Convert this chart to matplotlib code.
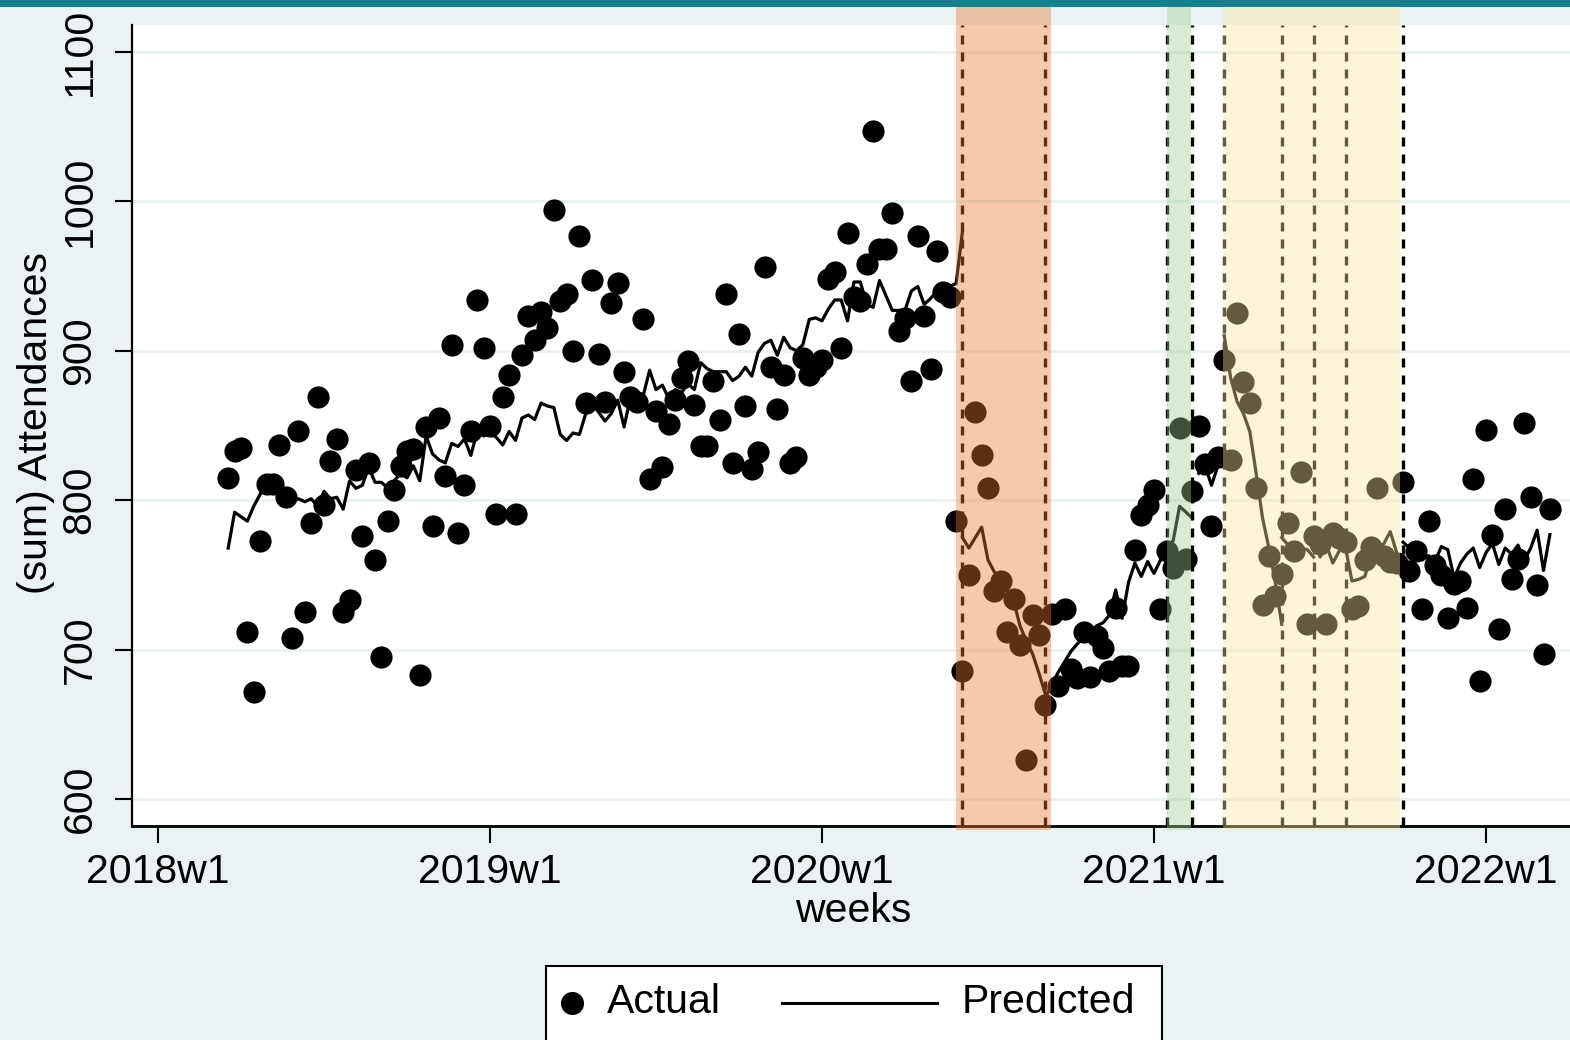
import numpy as np
import matplotlib
matplotlib.use('Agg')
from matplotlib import pyplot as plt
from matplotlib.patches import Rectangle
from matplotlib.lines import Line2D

plt.rcParams['font.family'] = ['Liberation Sans', 'DejaVu Sans']

# weeks counted from 2018w1 (=0), 52 weeks a year (Stata %tw)
first_week = 11
actual = [815, 833, 835, 712, 672, 773, 811, 811, 837, 802,
          708, 846, 725, 785, 869, 797, 826, 841, 725, 733,
          820, 776, 825, 760, 695, 786, 807, 823, 833, 834,
          683, 849, 783, 855, 816, 904, 778, 810, 846, 934,
          902, 850, 791, 869, 884, 791, 897, 923, 907, 926,
          915, 994, 933, 938, 900, 977, 865, 947, 898, 866,
          932, 945, 886, 869, 866, 921, 814, 860, 822, 851,
          867, 882, 893, 864, 836, 836, 880, 854, 938, 825,
          911, 863, 821, 832, 956, 889, 861, 884, 825, 829,
          895, 884, 889, 894, 948, 953, 902, 979, 936, 933,
          958, 1047, 968, 968, 992, 913, 922, 880, 977, 923,
          888, 967, 939, 936, 786, 686, 750, 859, 830, 808,
          739, 746, 712, 734, 703, 626, 723, 710, 663, 724,
          676, 727, 687, 681, 712, 682, 709, 701, 686, 728,
          689, 689, 767, 790, 797, 807, 727, 766, 755, 848,
          761, 806, 850, 824, 783, 829, 894, 827, 925, 879,
          865, 808, 730, 763, 736, 751, 785, 766, 819, 717,
          776, 771, 717, 778, 775, 772, 727, 729, 760, 769,
          808, 763, 759, 758, 812, 753, 766, 727, 786, 757,
          750, 721, 744, 746, 728, 814, 679, 847, 777, 714,
          794, 747, 761, 852, 802, 743, 697, 794]
weeks = np.arange(first_week, first_week + len(actual))

# predicted, one piece per period
pred_pre = [768, 792, 789, 786, 796, 804, 811, 810, 804, 800,
            799, 801, 799, 801, 796, 806, 801, 802, 794, 813,
            808, 810, 822, 812, 812, 808, 813, 818, 815, 823,
            813, 843, 831, 827, 825, 838, 836, 841, 830, 846,
            843, 845, 842, 837, 846, 840, 855, 857, 854, 865,
            863, 862, 844, 840, 845, 844, 858, 865, 859, 853,
            858, 867, 849, 869, 861, 870, 887, 874, 877, 868,
            874, 872, 878, 874, 892, 888, 886, 886, 886, 880,
            883, 889, 883, 899, 905, 907, 897, 909, 902, 900,
            904, 921, 922, 920, 928, 934, 934, 920, 946, 946,
            931, 929, 947, 937, 927, 927, 927, 940, 943, 931,
            935, 940, 937, 943, 945, 980]
pred_lock1 = [775, 768, 775, 782, 760, 752, 745, 740, 733, 716, 706, 697, 684, 670]
pred_post1 = [668, 677, 685, 692, 699, 704, 708, 711, 716, 718,
              723, 740, 721, 745, 758, 749, 759, 751, 760, 767]
pred_lock2 = [767, 773, 796, 792, 788]
pred_mid = [818, 823, 810, 823]
pred_lock3a = [910, 882, 866, 858, 846, 818, 788, 768, 745, 717]
pred_lock3b = [775, 770, 764, 768, 767, 762]
pred_lock3c = [776, 762, 770, 758, 766, 772]
pred_lock3d = [768, 746, 747, 749, 762, 767, 771, 779, 765]
pred_post2 = [772, 768, 764, 760, 763, 759, 769, 767, 748, 758,
              764, 768, 755, 765, 771, 757, 768, 764, 770, 760,
              768, 780, 753, 777]
pred_starts = [11, 126, 139, 158, 163, 167, 176, 181, 186, 195]
pred_pieces = [pred_pre, pred_lock1, pred_post1, pred_lock2, pred_mid,
               pred_lock3a, pred_lock3b, pred_lock3c, pred_lock3d, pred_post2]

year_ticks = [0, 52, 104, 156, 208]
year_labels = ['2018w1', '2019w1', '2020w1', '2021w1', '2022w1']
y_ticks = [600, 700, 800, 900, 1000, 1100]

break_weeks = [126, 139, 158, 162, 167, 176, 181, 186, 195]
shade_from = [125.0, 158.1, 166.85]
shade_to = [139.8, 161.8, 194.55]
shade_cols = ['#E97A32', '#A0CD91', '#FCE69D']

W, H = 1570, 1040
bg = '#EAF2F3'
fig = plt.figure(figsize=(W / 100, H / 100), dpi=100, facecolor=bg)
ax = fig.add_axes([132 / W, 1 - 826 / H, 1 - 132 / W, (826 - 25) / H])
ax.set_facecolor('white')

ax.scatter(weeks, actual, s=255, c='black', linewidths=0, zorder=3)
for st, vals in zip(pred_starts, pred_pieces):
    ax.plot(np.arange(st, st + len(vals)), vals, color='black', lw=2.3, zorder=3)

for b in break_weeks:
    ax.axvline(b, color='black', lw=2.4, ls=(0, (2.7, 2.4)), zorder=4)
for a, b, c in zip(shade_from, shade_to, shade_cols):
    ax.axvspan(a, b, ymin=-0.005, ymax=1.0225, color=c, alpha=0.4, lw=0,
               zorder=5, clip_on=False)

ax.set_xlim(-4.07, 221.15)
ax.set_ylim(582.1, 1117.9)
ax.set_xticks(year_ticks)
ax.set_xticklabels(year_labels)
ax.set_yticks(y_ticks)
ax.set_yticklabels([str(v) for v in y_ticks], rotation=90, va='center')
ax.grid(axis='y', color=bg, lw=2.2)
ax.set_axisbelow(True)
for s in ['top', 'right']:
    ax.spines[s].set_visible(False)
ax.spines['left'].set_linewidth(1.6)
ax.spines['bottom'].set_linewidth(2)
ax.tick_params(axis='both', direction='out', length=12.2, width=1.5, labelsize=29.5)
ax.tick_params(axis='x', pad=7)
ax.tick_params(axis='y', pad=12)

fig.text(36 / W, 1 - 423 / H, '(sum) Attendances', rotation=90, ha='center',
         va='center', fontsize=29.5)
fig.text(853 / W, 1 - 922 / H, 'weeks', ha='center', va='baseline', fontsize=29.5)

# top bar
fig.add_artist(Rectangle((0, 1 - 7 / H), 1, 7 / H, transform=fig.transFigure,
                         color='#13808B', lw=0, zorder=10))

# legend box (runs off the bottom edge)
fig.add_artist(Rectangle((546 / W, -0.1), (1162 - 546) / W, (1040 - 966) / H + 0.1,
                         transform=fig.transFigure, fc='white', ec='black', lw=1.5))
fig.add_artist(Line2D([572 / W], [1 - 1003 / H], marker='o', ms=15.6, color='black',
                      ls='none', transform=fig.transFigure))
fig.add_artist(Line2D([782 / W, 937 / W], [1 - 1003 / H] * 2, color='black', lw=2.2,
                      transform=fig.transFigure))
fig.text(607 / W, 1 - 1013 / H, 'Actual', va='baseline', fontsize=29.5)
fig.text(962 / W, 1 - 1013 / H, 'Predicted', va='baseline', fontsize=29.5)

fig.savefig('out.png', dpi=100, facecolor=fig.get_facecolor())
